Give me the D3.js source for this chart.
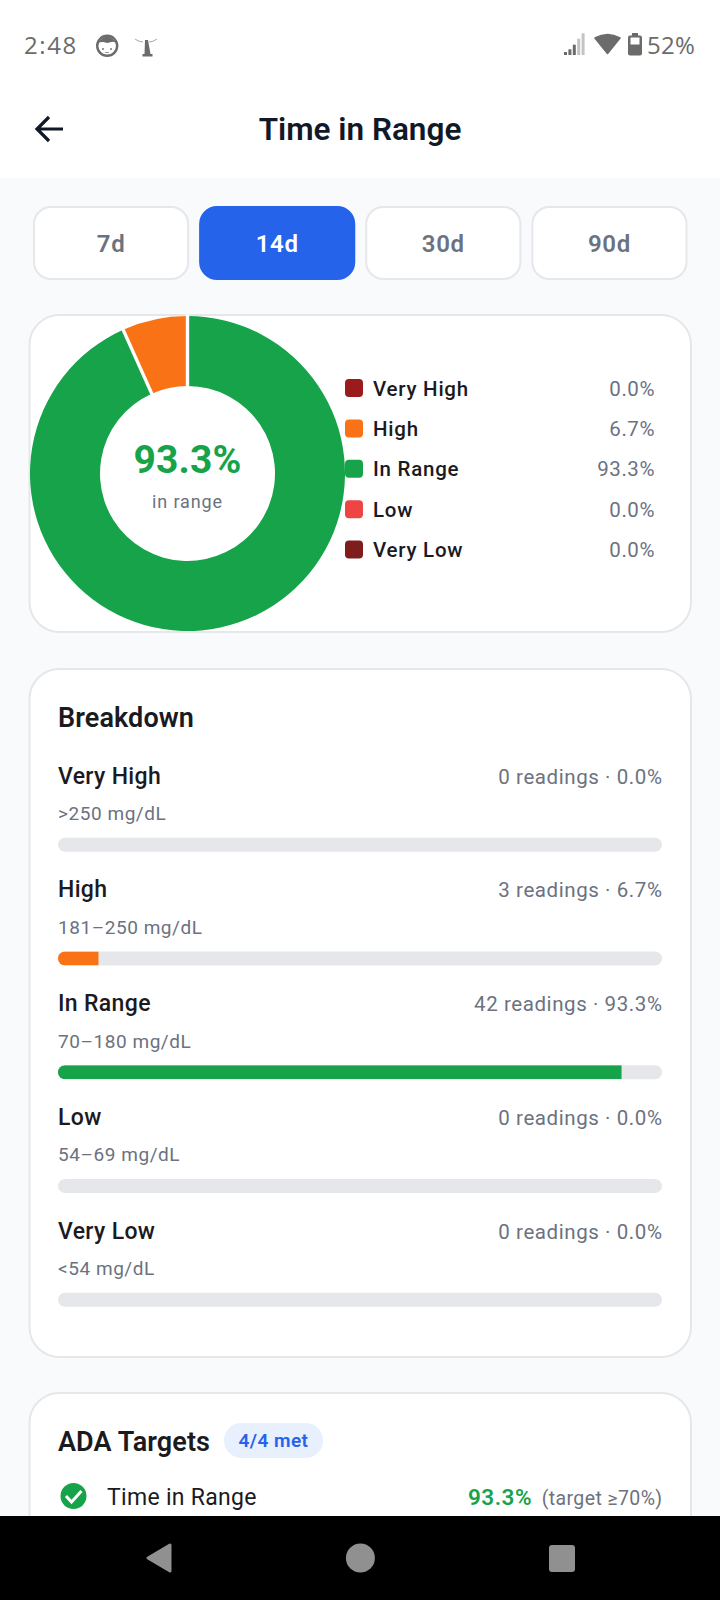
<!DOCTYPE html>
<html>
<head>
<meta charset="utf-8">
<script src="https://cdn.jsdelivr.net/npm/d3@7"></script>
<style>
html, body { margin: 0; padding: 0; background: #f9fafb; }
svg { display: block; }
text { font-family: Roboto, sans-serif; }
text.status { font-family: "Open Sans", sans-serif; }
</style>
</head>
<body>
<svg id="screen" width="720" height="1600"></svg>
<script>
// chart data
const ranges = ["Very High", "High", "In Range", "Low", "Very Low"];
const rangeLimits = [">250 mg/dL", "181–250 mg/dL", "70–180 mg/dL", "54–69 mg/dL", "<54 mg/dL"];
const readings = [0, 3, 42, 0, 0];
const percents = [0.0, 6.7, 93.3, 0.0, 0.0];
const rangeColors = ["#991b1b", "#f97316", "#16a34a", "#ef4444", "#7f1d1d"];
const periods = ["7d", "14d", "30d", "90d"];
const activePeriod = "14d";

const svg = d3.select("#screen");
const INK = "#1a1a1f", GREY = "#6b7280", LINE = "#e5e7eb", STATUS = "#6b6b6b";

function addText(parent, x, y, str, size, weight, fill, anchor, spacing){
    return parent.append("text")
        .attr("x", x).attr("y", y)
        .attr("font-size", size)
        .attr("font-weight", weight)
        .attr("fill", fill)
        .attr("text-anchor", anchor || "start")
        .attr("letter-spacing", spacing || 0)
        .text(str);
}

function addCard(y, h){
    svg.append("rect")
        .attr("x", 29.5).attr("y", y)
        .attr("width", 661.5).attr("height", h)
        .attr("rx", 30)
        .attr("fill", "#fff")
        .attr("stroke", LINE)
        .attr("stroke-width", 2);
}

//STATUS BAR AND HEADER
svg.append("rect").attr("width", 720).attr("height", 178).attr("fill", "#fff");
addText(svg, 24, 54, "2:48", 24, 400, STATUS, "start", 1.6).attr("class", "status");
addText(svg, 695, 54, "52%", 24, 400, STATUS, "end", 0.2).attr("class", "status");

// small notification icons
svg.append("circle").attr("cx", 107.2).attr("cy", 45.8).attr("r", 10).attr("fill", "#fff").attr("stroke", STATUS).attr("stroke-width", 2.4);
svg.append("path").attr("d", "M98 43q9.2-13 18.4 0q-4-2-5-1l-4 1l-4-1q-2-.5-5.400 1z").attr("fill", STATUS);
svg.append("path").attr("d", "M102 48h2v2h-2zM110 48h2v2h-2zM105 52h4v1h-4z").attr("fill", "#9a9a9a");
svg.append("path").attr("d", "M145 40h3l2.500 14h2v2.500h-10v-2.500h2z").attr("fill", STATUS);
svg.append("path")
    .attr("d", "M135 39q4 3 8 3M157 39q-4 3-8 3")
    .attr("fill", "none").attr("stroke", "#a8a8a8").attr("stroke-width", 1);

// signal, wifi, battery
const signalTops = [52, 49.3, 44.7, 38.7, 33.3];
signalTops.forEach((top, i) => {
    svg.append("rect")
        .attr("x", 564 + i * 4.4).attr("width", 3)
        .attr("y", top).attr("height", 55 - top)
        .attr("fill", i > 2 ? "#c4c4c4" : STATUS);
});
svg.append("path")
    .attr("d", "M595 38q12.500-7 25 0l-12.500 15.500z")
    .attr("fill", STATUS)
    .attr("stroke", STATUS).attr("stroke-width", 1.6).attr("stroke-linejoin", "round");
svg.append("rect").attr("x", 628).attr("y", 35.500).attr("width", 14).attr("height", 20).attr("rx", 2).attr("fill", STATUS);
svg.append("rect").attr("x", 632).attr("y", 33).attr("width", 6).attr("height", 3).attr("fill", STATUS);
svg.append("rect").attr("x", 630.500).attr("y", 37.500).attr("width", 9).attr("height", 7).attr("fill", "#fff");

svg.append("path")
    .attr("d", "M63 129H37M49 117L37 129L49 141")
    .attr("fill", "none").attr("stroke", "#111827").attr("stroke-width", 3.2);
addText(svg, 360, 140, "Time in Range", 31.5, 600, "#111827", "middle");

//PERIOD BUTTONS
const btnX = d3.scaleBand().domain(periods).range([34, 686.5]).paddingInner(0.072);
periods.forEach(p => {
    const on = p === activePeriod;
    svg.append("rect")
        .attr("x", btnX(p)).attr("y", 207)
        .attr("width", btnX.bandwidth()).attr("height", 72)
        .attr("rx", 17)
        .attr("fill", on ? "#2563eb" : "#fff")
        .attr("stroke", on ? "#2563eb" : LINE)
        .attr("stroke-width", 2);
    addText(svg, btnX(p) + btnX.bandwidth() / 2, 252, p, 24, 600, on ? "#fff" : GREY, "middle", 0.7);
});

//DONUT CARD
addCard(315, 317);
const donut = svg.append("g").attr("transform", "translate(187.5,473.5)");
const pie = d3.pie().sort(null).value(d => d.value)
    .startAngle(-percents[1] / 100 * 2 * Math.PI)
    .endAngle(2 * Math.PI - percents[1] / 100 * 2 * Math.PI);
const arc = d3.arc().innerRadius(87.5).outerRadius(157.5);
const slices = ranges.map((r, i) => ({ value: percents[i], color: rangeColors[i] }));
donut.selectAll("path")
    .data(pie(slices).filter(d => d.value > 0))
    .join("path")
    .attr("d", arc)
    .attr("fill", d => d.data.color);
// white separators between the slices
donut.selectAll("path.sep")
    .data(pie(slices).filter(d => d.value > 0))
    .join("path")
    .attr("class", "sep")
    .attr("d", d => d3.line()([
        [87 * Math.sin(d.startAngle), -87 * Math.cos(d.startAngle)],
        [159 * Math.sin(d.startAngle), -159 * Math.cos(d.startAngle)]
    ]))
    .attr("stroke", "#fff").attr("stroke-width", 3.4);
addText(svg, 187.5, 473, percents[2].toFixed(1) + "%", 39, 700, rangeColors[2], "middle", 0.1);
addText(svg, 187.5, 508, "in range", 18, 400, GREY, "middle", 0.9);

const legendY = d3.scalePoint().domain(ranges).range([388, 549.5]);
ranges.forEach((r, i) => {
    const y = legendY(r);
    svg.append("rect")
        .attr("x", 345).attr("y", y - 9)
        .attr("width", 18).attr("height", 18)
        .attr("rx", 4).attr("fill", rangeColors[i]);
    addText(svg, 373, y + 7.5, r, 20.5, 500, INK, "start", 0.75);
    addText(svg, 655, y + 7.5, percents[i].toFixed(1) + "%", 20.5, 400, GREY, "end", 0.55);
});

//BREAKDOWN CARD
addCard(669, 688);
addText(svg, 58, 727, "Breakdown", 27, 600, INK, "start", 0.1);
const barX = d3.scaleLinear().domain([0, 100]).range([58, 662]);
const rowY = d3.scalePoint().domain(ranges).range([769.7, 1224.7]);
const BAR_H = 14;
ranges.forEach((r, i) => {
    const y = rowY(r);
    addText(svg, 58, y + 14, r, 23, 500, INK, "start", 0.34);
    addText(svg, 662.5, y + 14, readings[i] + " readings · " + percents[i].toFixed(1) + "%", 20.5, 400, GREY, "end", 0.58);
    addText(svg, 58, y + 50.5, rangeLimits[i], 19, 400, GREY, "start", 0.55);
    // the fill keeps a square right end, only the track is rounded
    const clipId = "track" + i;
    svg.append("clipPath").attr("id", clipId)
        .append("rect").attr("x", barX(0)).attr("y", y + 68)
        .attr("width", barX(100) - barX(0)).attr("height", BAR_H)
        .attr("rx", 7);
    svg.append("rect").attr("x", barX(0)).attr("y", y + 68)
        .attr("width", barX(100) - barX(0)).attr("height", BAR_H)
        .attr("rx", 7).attr("fill", LINE);
    if(percents[i] > 0){
        svg.append("rect").attr("x", barX(0)).attr("y", y + 68)
            .attr("width", barX(percents[i]) - barX(0)).attr("height", BAR_H)
            .attr("clip-path", "url(#" + clipId + ")")
            .attr("fill", rangeColors[i]);
    }
});

//ADA TARGETS CARD
addCard(1393, 260);
addText(svg, 58, 1451, "ADA Targets", 27, 600, INK, "start", 0.1);
svg.append("rect").attr("x", 224).attr("y", 1423).attr("width", 99).attr("height", 35).attr("rx", 17.5).attr("fill", "#e8effd");
addText(svg, 273.5, 1447, "4/4 met", 19, 600, "#2563eb", "middle", 0.45);
svg.append("circle").attr("cx", 73.5).attr("cy", 1496).attr("r", 13).attr("fill", "#16a34a");
svg.append("path").attr("d", "M66 1496l5.5 6l10-11").attr("fill", "none").attr("stroke", "#fff").attr("stroke-width", 3);
addText(svg, 107, 1505, "Time in Range", 23, 400, INK, "start", 0.3);
addText(svg, 532, 1505, "93.3%", 22.5, 600, rangeColors[2], "end", 0.5);
addText(svg, 662.5, 1505, "(target ≥70%)", 19.5, 400, GREY, "end", 0.38);

//NAV BAR
svg.append("rect").attr("y", 1516).attr("width", 720).attr("height", 84).attr("fill", "#000");
svg.append("path")
    .attr("d", "M170 1545L170 1571L148 1558z")
    .attr("fill", "#909090").attr("stroke", "#909090").attr("stroke-width", 3).attr("stroke-linejoin", "round");
svg.append("circle").attr("cx", 360.4).attr("cy", 1558).attr("r", 14.5).attr("fill", "#909090");
svg.append("rect").attr("x", 549).attr("y", 1545).attr("width", 26).attr("height", 27).attr("rx", 3).attr("fill", "#909090");
</script>
</body>
</html>
